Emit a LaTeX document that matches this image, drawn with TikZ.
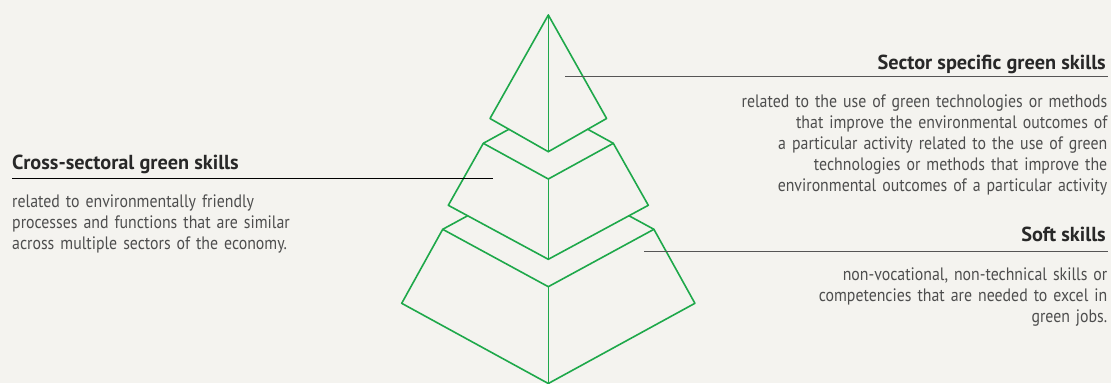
\documentclass[tikz,border=0pt]{standalone}
\usepackage{fontspec}
\setmainfont{PT Sans}
\newfontfamily\bodyfont{PT Sans}[FakeStretch=0.88]
\newfontfamily\headfont{PT Sans}
\definecolor{bg}{RGB}{244,243,239}
\definecolor{pgreen}{RGB}{30,168,74}
\definecolor{headc}{RGB}{40,40,40}
\definecolor{bodyc}{RGB}{78,78,78}
\definecolor{leadc}{RGB}{85,85,85}
\tikzset{
  edge/.style={draw=pgreen, line width=1.6pt, line join=round, line cap=round},
  head/.style={font=\headfont\bfseries\fontsize{20.3}{22}\selectfont, text=headc, inner sep=0pt},
  body/.style={font=\bodyfont\fontsize{18}{20.9}\selectfont, text=bodyc, inner sep=0pt, text width=420pt},
  leader/.style={draw=leadc, line width=1.2pt},
}
\begin{document}
\begin{tikzpicture}[x=1pt,y=-1pt]
\fill[bg] (0,0) rectangle (1111,383);
\useasboundingbox (0,0) rectangle (1111,383);
% top pyramid
\coordinate (A) at (548.3,15);
\coordinate (TL) at (490,118.5);
\coordinate (TR) at (606.6,118.5);
\coordinate (TB) at (548.3,151.7);
% middle frustum
\coordinate (M1L) at (483.3,143.3);
\coordinate (M1R) at (613.3,143.3);
\coordinate (M1C) at (548.3,179);
\coordinate (M1K) at (548.3,107.6);
\coordinate (M2L) at (448.3,205.3);
\coordinate (M2R) at (648.3,205.3);
\coordinate (M2C) at (548.3,259.3);
% bottom frustum
\coordinate (B1L) at (442.7,229.3);
\coordinate (B1R) at (653.9,229.3);
\coordinate (B1C) at (548.3,286.7);
\coordinate (B1K) at (548.3,171.9);
\coordinate (B2L) at (401.7,303.3);
\coordinate (B2R) at (694.9,303.3);
\coordinate (B2C) at (548.3,383.5);

\draw[edge] (TL) -- (A) -- (TR) -- (TB) -- cycle;
\draw[edge] (A) -- (TB);

\draw[edge] (M1L) -- (intersection of M1L--M1K and TL--TB);
\draw[edge] (M1R) -- (intersection of M1R--M1K and TR--TB);
\draw[edge] (M1L) -- (M1C) -- (M1R) -- (M2R) -- (M2C) -- (M2L) -- cycle;
\draw[edge] (M1C) -- (M2C);

\draw[edge] (B1L) -- (intersection of B1L--B1K and M2L--M2C);
\draw[edge] (B1R) -- (intersection of B1R--B1K and M2R--M2C);
\draw[edge] (B1L) -- (B1C) -- (B1R) -- (B2R) -- (B2C) -- (B2L) -- cycle;
\draw[edge] (B1C) -- (B2C);

% sector specific
\node[head, anchor=base east] (t1) at (1106,69) {Sector specific green skills};
\node[body, align=right, anchor=base east] (d1) at (1107.5,107.8) {related to the use of green technologies or methods\\that improve the environmental outcomes of\\a particular activity related to the use of green\\technologies or methods that improve the\\environmental outcomes of a particular activity};
\coordinate (p1) at (565,76.8);
\draw[leader] (p1) -- (p1 -| d1.east);

% cross-sectoral
\node[head, anchor=base west] (t2) at (12,169) {Cross-sectoral green skills};
\node[body, align=left, anchor=base west] (d2) at (12,207.3) {related to environmentally friendly\\processes and functions that are similar\\across multiple sectors of the economy.};
\coordinate (p2) at (492.7,178.3);
\draw[leader, draw=black] (p2 -| t2.west) -- (p2);

% soft skills
\node[head, anchor=base east] (t3) at (1106,241.5) {Soft skills};
\node[body, align=right, anchor=base east] (d3) at (1107.5,280.5) {non-vocational, non-technical skills or\\competencies that are needed to excel in\\green jobs.};
\coordinate (p3) at (644,251.3);
\draw[leader] (p3) -- (p3 -| d3.east);
\end{tikzpicture}
\end{document}
